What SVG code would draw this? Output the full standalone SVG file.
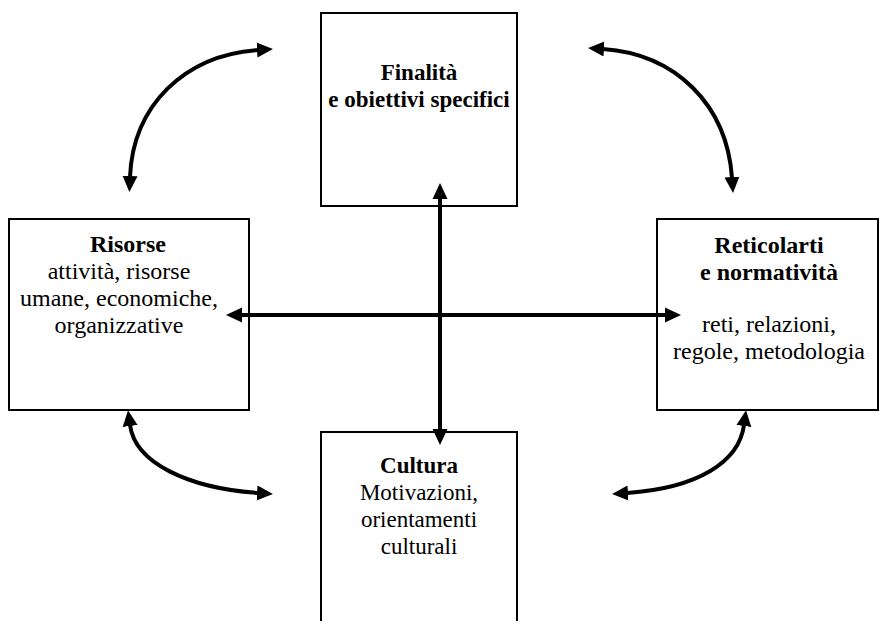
<svg xmlns="http://www.w3.org/2000/svg" width="885" height="621" viewBox="0 0 885 621">
<style>
.box{fill:#fff;stroke:#000;stroke-width:2}
.t{font-family:"Liberation Serif","Times New Roman",serif;font-size:24px;fill:#000;text-anchor:middle}
.m{font-size:23px}
.b{font-weight:bold}
.c{fill:none;stroke:#000;stroke-width:4}
</style>
<defs>
<marker id="ah" markerUnits="userSpaceOnUse" markerWidth="16" markerHeight="16" refX="1" refY="7.5" orient="auto-start-reverse" viewBox="0 0 16 15">
<path d="M0,0 L16,7.5 L0,15 z" fill="#000"/>
</marker>
</defs>
<g id="finalita">
<rect class="box" x="321" y="13" width="196" height="193"/>
<text class="t b m" x="419" y="80">Finalità</text>
<text class="t b m" x="419" y="107">e obiettivi specifici</text>
</g>
<g id="risorse">
<rect class="box" x="9" y="219" width="240" height="191"/>
<text class="t b" x="128" y="252">Risorse</text>
<text class="t" x="119" y="279">attività, risorse</text>
<text class="t" x="119" y="306">umane, economiche,</text>
<text class="t" x="119" y="333">organizzative</text>
</g>
<g id="reticolarti">
<rect class="box" x="657" y="219" width="221" height="191"/>
<text class="t b" x="769" y="253">Reticolarti</text>
<text class="t b" x="769" y="280">e normatività</text>
<text class="t" x="769" y="332">reti, relazioni,</text>
<text class="t" x="769" y="359">regole, metodologia</text>
</g>
<g id="cultura">
<rect class="box" x="321" y="432" width="196" height="220"/>
<text class="t b m" x="419" y="473">Cultura</text>
<text class="t m" x="419" y="500">Motivazioni,</text>
<text class="t m" x="419" y="527">orientamenti</text>
<text class="t m" x="419" y="554">culturali</text>
</g>
<g id="connectors">
<path class="c" d="M440,198 L440,430" marker-start="url(#ah)" marker-end="url(#ah)"/>
<path class="c" d="M241,315 L666,315" marker-start="url(#ah)" marker-end="url(#ah)"/>
<path class="c" d="M130,177 C133,105 185,55 258,50" marker-start="url(#ah)" marker-end="url(#ah)"/>
<path class="c" d="M603,49 C676,54 727,105 732,178" marker-start="url(#ah)" marker-end="url(#ah)"/>
<path class="c" d="M130,425 C135,463 188,488 258,493" marker-start="url(#ah)" marker-end="url(#ah)"/>
<path class="c" d="M627,493 C698,488 739,462 744,425" marker-start="url(#ah)" marker-end="url(#ah)"/>
</g>
</svg>
